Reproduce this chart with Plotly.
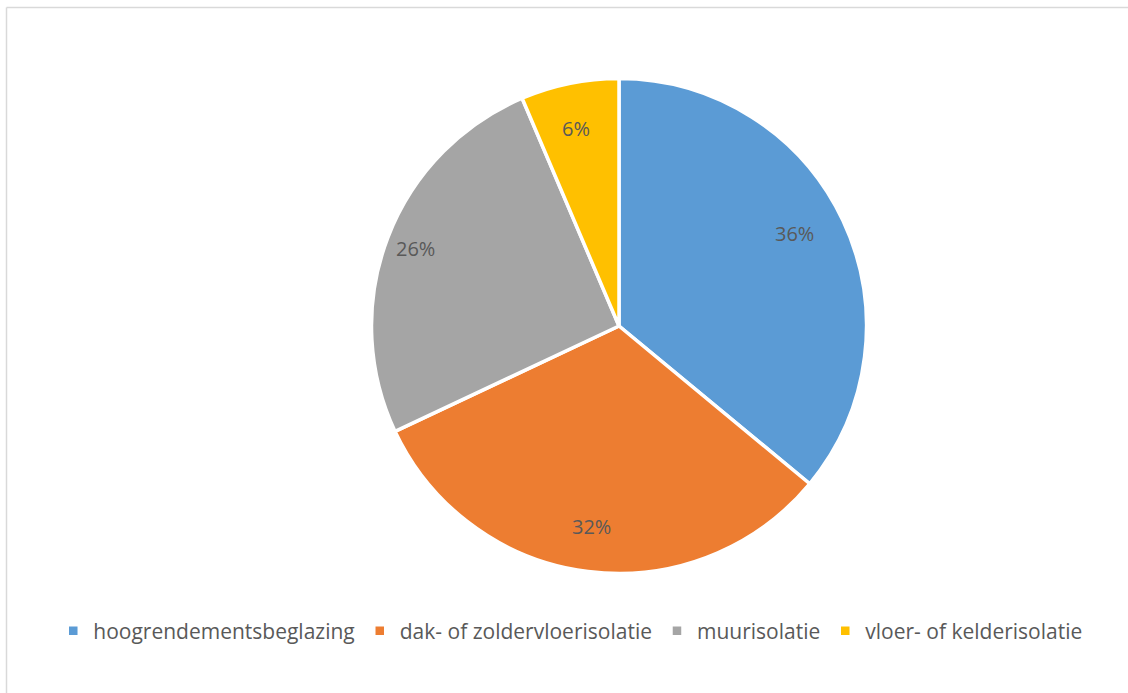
import math
import plotly.graph_objects as go

categories = ["hoogrendementsbeglazing", "dak- of zoldervloerisolatie", "muurisolatie", "vloer- of kelderisolatie"]
values = [36.0, 32.0, 25.6, 6.4]
colors = ["#5B9BD5", "#ED7D31", "#A5A5A5", "#FFC000"]

W, H = 1128, 693
CX, CY, R = 619, 326, 247.5
FONT = "Open Sans"
TXT = "#595959"

fig = go.Figure(go.Pie(
    labels=categories, values=values, sort=False, direction="clockwise", rotation=0,
    marker=dict(colors=colors, line=dict(color="white", width=3.5)),
    textinfo="none", hoverinfo="label+percent",
    domain=dict(x=[(CX - R) / W, (CX + R) / W], y=[1 - (CY + R) / H, 1 - (CY - R) / H]),
))

total = sum(values)
cum = 0
ann = []
for v in values:
    mid = (cum + v / 2) / total * 2 * math.pi
    cum += v
    rr = 0.88 * R
    x = CX + rr * math.sin(mid)
    y = CY - rr * math.cos(mid)
    ann.append(dict(x=x / W, y=1 - y / H, xref="paper", yref="paper", showarrow=False,
                    text=f"{round(v / total * 100)}%", font=dict(family=FONT, size=20, color=TXT)))

fig.update_layout(
    width=W, height=H, margin=dict(l=0, r=0, t=0, b=0),
    paper_bgcolor="white", plot_bgcolor="white",
    annotations=ann,
    showlegend=True,
    legend=dict(orientation="h", x=0.506, xanchor="center", y=1 - 631 / H, yanchor="middle",
                font=dict(family=FONT, size=21, color=TXT), itemwidth=30, traceorder="normal"),
    shapes=[
        dict(type="line", xref="paper", yref="paper", x0=6.5 / W, x1=1.01, y0=1 - 7.5 / H, y1=1 - 7.5 / H,
             line=dict(color="#D9D9D9", width=1.5)),
        dict(type="line", xref="paper", yref="paper", x0=6.5 / W, x1=6.5 / W, y0=-0.01, y1=1 - 7.5 / H,
             line=dict(color="#D9D9D9", width=1.5)),
    ],
)

fig.write_html("out.html")
